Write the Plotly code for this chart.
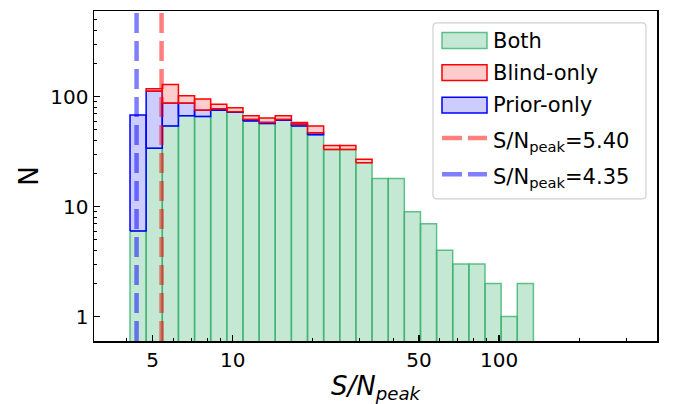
import numpy as np
import plotly.graph_objects as go

# ---------------- data ----------------
SN_MIN = 4.11
SN_MAX = 134.6
N_BINS = 25
bin_edges = np.logspace(np.log10(SN_MIN), np.log10(SN_MAX), N_BINS + 1)

both = [6, 34, 54, 67, 66, 75, 72, 60, 57, 61, 54, 45, 33, 33, 25, 18, 18, 9, 7, 4, 3, 3, 2, 1, 2]
prior_only = [62, 78, 33, 20, 9, 2, 1, 2, 1, 1, 2, 2, 0, 0, 0, 0, 0, 0, 0, 0, 0, 0, 0, 0, 0]
blind_only = [0, 6, 42, 15, 20, 8, 6, 5, 6, 5, 2, 7, 3, 3, 2, 0, 0, 0, 0, 0, 0, 0, 0, 0, 0]

thr_blind = 5.40
thr_prior = 4.35

x_tickvals = [5, 10, 50, 100]
x_ticktext = ["5", "10", "50", "100"]
x_minor = [4, 6, 7, 8, 9, 20, 30, 40, 60, 70, 80, 90, 200, 300]
y_tickvals = [1, 10, 100]
y_ticktext = ["1", "10", "100"]
y_minor = [2, 3, 4, 5, 6, 7, 8, 9, 20, 30, 40, 50, 60, 70, 80, 90, 200, 300, 400, 500]

legend_labels = ["Both", "Blind-only", "Prior-only",
                 "S/N<sub>peak</sub>=%.2f" % thr_blind,
                 "S/N<sub>peak</sub>=%.2f" % thr_prior]

# ---------------- styles ----------------
FONT = "DejaVu Sans"
G_FILL, G_EDGE = "rgba(60,179,113,0.3)", "rgba(60,179,113,0.8)"
R_FILL, R_EDGE = "rgba(255,0,0,0.2)", "rgb(255,0,0)"
B_FILL, B_EDGE = "rgba(0,0,255,0.2)", "rgb(0,0,255)"
R_LINE, B_LINE = "rgba(255,0,0,0.5)", "rgba(0,0,255,0.5)"
FLOOR = 0.01

fig = go.Figure()


def add_layer(bottom, counts, fill, edge, name):
    xs, ys = [], []
    for i, (b, c) in enumerate(zip(bottom, counts)):
        if c <= 0:
            continue
        lo, hi = bin_edges[i], bin_edges[i + 1]
        y0 = b if b > 0 else FLOOR
        y1 = b + c
        xs += [lo, lo, hi, hi, lo, None]
        ys += [y0, y1, y1, y0, y0, None]
    fig.add_trace(go.Scatter(x=xs, y=ys, mode="lines", fill="toself",
                             fillcolor=fill, line=dict(color=edge, width=1.5),
                             name=name, showlegend=False, hoverinfo="skip"))


zeros = [0] * N_BINS
add_layer(zeros, both, G_FILL, G_EDGE, "Both")
bottom2 = [a for a in both]
add_layer(bottom2, prior_only, B_FILL, B_EDGE, "Prior-only")
bottom3 = [a + b for a, b in zip(both, prior_only)]
add_layer(bottom3, blind_only, R_FILL, R_EDGE, "Blind-only")

shapes = []
for thr, col in [(thr_blind, R_LINE), (thr_prior, B_LINE)]:
    shapes.append(dict(type="line", xref="x", yref="y domain", x0=thr, x1=thr,
                       y0=0, y1=1, layer="above",
                       line=dict(color=col, width=4.5, dash="20px,8px")))

# ---------------- manual legend ----------------
L, T, W, H = 94, 9, 563, 332


def px(x):
    return (x - L) / W


def py(y):
    return 1 - (y - T) / H


bx0, bx1, by0, by1 = px(433), px(646), py(21), py(198)
rx, ry = 4 / W, 4 / H
path = (f"M{bx0+rx},{by0} L{bx1-rx},{by0} Q{bx1},{by0} {bx1},{by0-ry} "
        f"L{bx1},{by1+ry} Q{bx1},{by1} {bx1-rx},{by1} L{bx0+rx},{by1} "
        f"Q{bx0},{by1} {bx0},{by1+ry} L{bx0},{by0-ry} Q{bx0},{by0} {bx0+rx},{by0} Z")
shapes.append(dict(type="path", xref="paper", yref="paper", path=path, layer="above",
                   fillcolor="rgba(255,255,255,0.8)", line=dict(color="#d0d0d0", width=1.2)))

row_y = [38.7, 71.0, 103.7, 136.7, 173.3]
patch_styles = [(G_FILL, G_EDGE), (R_FILL, R_EDGE), (B_FILL, B_EDGE)]
for k, (fc, ec) in enumerate(patch_styles):
    shapes.append(dict(type="rect", xref="paper", yref="paper", layer="above",
                       x0=px(442), x1=px(487), y0=py(row_y[k] - 8), y1=py(row_y[k] + 8),
                       fillcolor=fc, line=dict(color=ec, width=1.5)))
for k, col in [(3, R_LINE), (4, B_LINE)]:
    shapes.append(dict(type="line", xref="paper", yref="paper", layer="above",
                       x0=px(442), x1=px(487), y0=py(row_y[k]), y1=py(row_y[k]),
                       line=dict(color=col, width=4.5, dash="20px,6px")))

annotations = []
for k, lab in enumerate(legend_labels):
    yy = row_y[k] + (4 if k >= 3 else 0)
    annotations.append(dict(text=lab, xref="paper", yref="paper", x=px(491), y=py(yy),
                            xanchor="left", yanchor="middle", showarrow=False,
                            font=dict(family=FONT, size=21, color="black")))

axis_common = dict(showline=True, linecolor="black", linewidth=1.5, mirror=True,
                   ticks="inside", ticklen=6, tickwidth=1.2, tickcolor="black",
                   showgrid=False, zeroline=False,
                   tickfont=dict(family=FONT, size=20, color="black"))

fig.update_layout(
    width=676, height=404,
    margin=dict(l=L, r=676 - L - W, t=T, b=404 - T - H),
    paper_bgcolor="white", plot_bgcolor="white",
    font=dict(family=FONT, color="black"),
    showlegend=False,
    shapes=shapes, annotations=annotations,
    xaxis=dict(type="log", range=[np.log10(3.01), np.log10(392)],
               tickmode="array", tickvals=x_tickvals, ticktext=x_ticktext,
               minor=dict(tickmode="array", tickvals=x_minor, ticks="inside", ticklen=3,
                          tickwidth=1, tickcolor="black", showgrid=False),
               title=dict(text="<i>S/N<sub>peak</sub></i>",
                          font=dict(family=FONT, size=26, color="black"), standoff=4),
               **axis_common),
    yaxis=dict(type="log", range=[np.log10(0.6), np.log10(600)],
               tickmode="array", tickvals=y_tickvals, ticktext=y_ticktext,
               minor=dict(tickmode="array", tickvals=y_minor, ticks="inside", ticklen=3,
                          tickwidth=1, tickcolor="black", showgrid=False),
               title=dict(text="N", font=dict(family=FONT, size=26, color="black"), standoff=4),
               **axis_common),
)

fig.write_html("out.html",
               config={"displayModeBar": False, "staticPlot": True},
               post_script="document.body.style.margin='0';document.body.style.padding='0';")
